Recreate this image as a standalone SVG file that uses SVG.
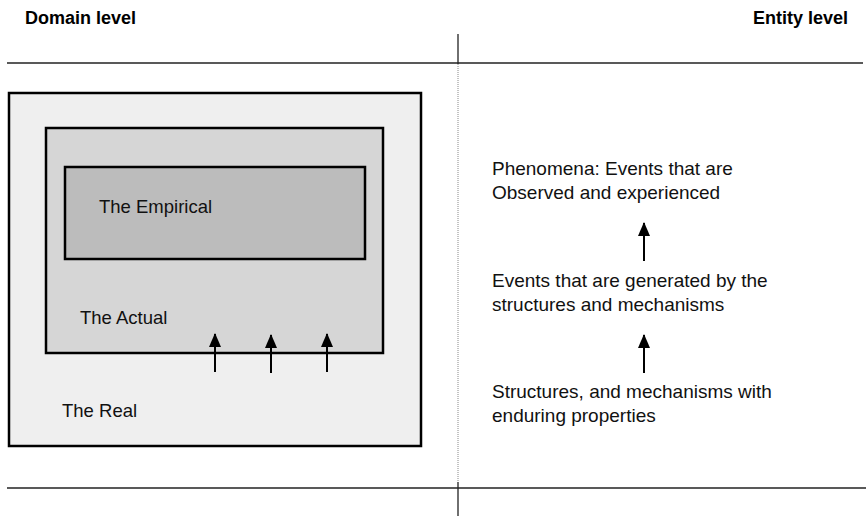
<svg xmlns="http://www.w3.org/2000/svg" width="866" height="516" viewBox="0 0 866 516">
<defs>
<style>
text{font-family:"Liberation Sans",Arial,sans-serif;font-size:18.5px;fill:#111}
.h{font-weight:bold;font-size:18px;fill:#000}
.r{font-size:19px}
.box{stroke:#000;stroke-width:2.5}
.rule{stroke:#222;stroke-width:1.3}
.arr{stroke:#000;stroke-width:2;marker-end:url(#ah)}
</style>
<marker id="ah" viewBox="0 0 14 12" refX="13" refY="6" markerWidth="14" markerHeight="12" markerUnits="userSpaceOnUse" orient="auto">
<path d="M0,0 L14,6 L0,12 Z" fill="#000"/>
</marker>
</defs>
<rect width="866" height="516" fill="#fff"/>
<g id="headings">
<text class="h" x="25" y="24">Domain level</text>
<text class="h" x="753" y="24">Entity level</text>
</g>
<g id="rules">
<line class="rule" x1="7" y1="63" x2="863" y2="63"/>
<line class="rule" x1="7" y1="488" x2="866" y2="488"/>
<line x1="458" y1="34" x2="458" y2="64" stroke="#222" stroke-width="1.3"/>
<line x1="458" y1="64" x2="458" y2="482" stroke="#888" stroke-width="1" stroke-dasharray="1,1"/>
<line x1="458" y1="482" x2="458" y2="516" stroke="#222" stroke-width="1.3"/>
</g>
<g id="real">
<rect class="box" x="9" y="93" width="412" height="353" fill="#efefef"/>
<text x="62" y="417">The Real</text>
</g>
<g id="actual">
<rect class="box" x="46" y="128" width="337" height="225" fill="#d6d6d6"/>
<text x="80" y="324">The Actual</text>
</g>
<g id="empirical">
<rect class="box" x="65" y="167" width="300" height="92" fill="#bcbcbc"/>
<text x="99" y="213">The Empirical</text>
</g>
<g id="phenomena">
<text class="r" x="492" y="175">Phenomena: Events that are</text>
<text class="r" x="492" y="199">Observed and experienced</text>
</g>
<g id="events">
<text class="r" x="492" y="287">Events that are generated by the</text>
<text class="r" x="492" y="311">structures and mechanisms</text>
</g>
<g id="structures">
<text class="r" x="492" y="398">Structures, and mechanisms with</text>
<text class="r" x="492" y="422">enduring properties</text>
</g>
<g id="connectors">
<line class="arr" x1="215" y1="372" x2="215" y2="334"/>
<line class="arr" x1="271" y1="373" x2="271" y2="335"/>
<line class="arr" x1="327" y1="372" x2="327" y2="334"/>
<line class="arr" x1="644" y1="261" x2="644" y2="223"/>
<line class="arr" x1="644" y1="373" x2="644" y2="335"/>
</g>
</svg>
